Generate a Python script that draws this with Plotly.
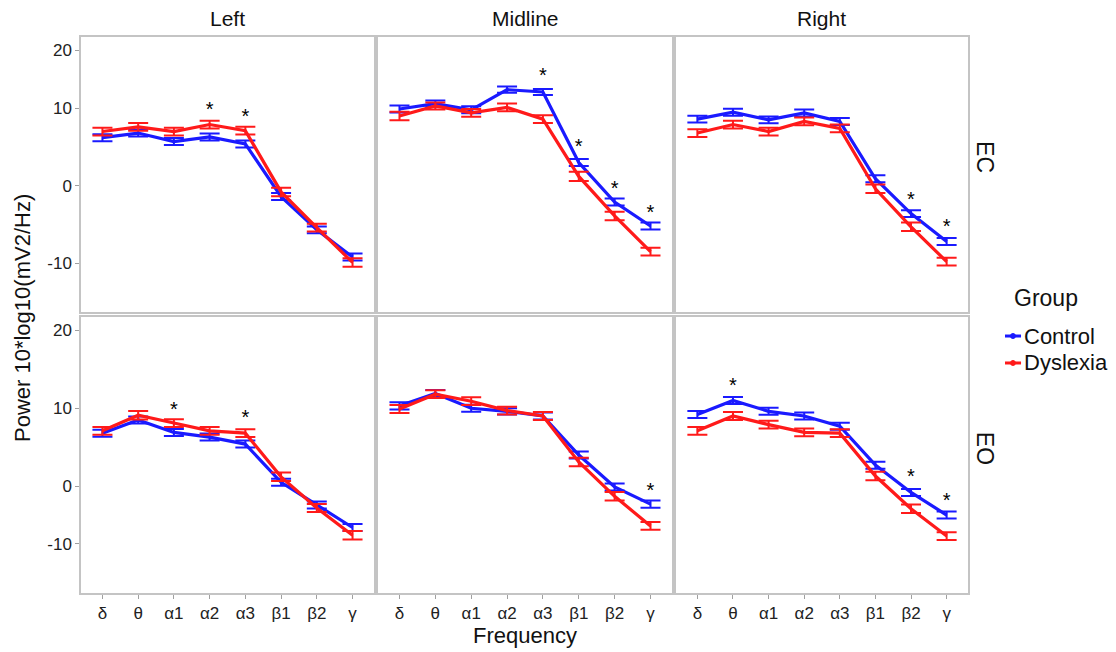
import plotly.graph_objects as go

# ---------------- data ----------------
bands = ["δ", "θ", "α1", "α2", "α3", "β1", "β2", "γ"]
regions = ["Left", "Midline", "Right"]
conditions = ["EC", "EO"]
groups = ["Control", "Dyslexia"]

# Eyes closed (EC): mean power, 10*log10(mV2/Hz)
ec_left_control = [6.2, 6.8, 5.7, 6.3, 5.4, -1.4, -5.7, -9.2]
ec_left_dyslexia = [7.0, 7.6, 7.0, 7.9, 7.1, -0.8, -5.4, -9.9]
ec_mid_control = [9.9, 10.6, 9.8, 12.4, 12.1, 3.0, -2.1, -5.2]
ec_mid_dyslexia = [9.0, 10.3, 9.4, 10.1, 8.6, 1.2, -3.9, -8.5]
ec_right_control = [8.6, 9.5, 8.5, 9.4, 8.3, 0.9, -3.6, -7.2]
ec_right_dyslexia = [6.8, 7.9, 7.0, 8.3, 7.4, -0.4, -5.3, -9.8]

# Eyes open (EO)
eo_left_control = [6.8, 8.5, 6.9, 6.3, 5.4, 0.5, -2.4, -5.3]
eo_left_dyslexia = [7.1, 9.1, 8.1, 7.1, 6.8, 1.2, -2.8, -6.3]
eo_mid_control = [10.3, 11.9, 10.0, 9.6, 9.0, 4.0, -0.1, -2.3]
eo_mid_dyslexia = [9.9, 11.8, 10.9, 9.7, 9.0, 3.1, -1.3, -5.1]
eo_right_control = [9.2, 11.0, 9.6, 9.0, 7.7, 2.7, -0.8, -3.7]
eo_right_dyslexia = [7.1, 9.0, 7.9, 6.9, 6.8, 1.3, -2.9, -6.4]

# standard errors
ec_left_control_se = [0.45, 0.45, 0.45, 0.45, 0.45, 0.45, 0.45, 0.45]
ec_left_dyslexia_se = [0.5, 0.5, 0.5, 0.5, 0.5, 0.55, 0.5, 0.55]
ec_mid_control_se = [0.45, 0.4, 0.45, 0.4, 0.4, 0.45, 0.45, 0.45]
ec_mid_dyslexia_se = [0.55, 0.45, 0.5, 0.5, 0.5, 0.6, 0.55, 0.5]
ec_right_control_se = [0.45, 0.45, 0.45, 0.45, 0.45, 0.45, 0.45, 0.45]
ec_right_dyslexia_se = [0.5, 0.5, 0.5, 0.5, 0.5, 0.55, 0.55, 0.5]
eo_left_control_se = [0.45, 0.45, 0.45, 0.45, 0.45, 0.45, 0.45, 0.45]
eo_left_dyslexia_se = [0.5, 0.55, 0.5, 0.5, 0.5, 0.55, 0.5, 0.55]
eo_mid_control_se = [0.45, 0.45, 0.45, 0.4, 0.45, 0.45, 0.45, 0.45]
eo_mid_dyslexia_se = [0.5, 0.5, 0.5, 0.5, 0.5, 0.55, 0.55, 0.5]
eo_right_control_se = [0.45, 0.45, 0.45, 0.45, 0.45, 0.45, 0.45, 0.45]
eo_right_dyslexia_se = [0.5, 0.5, 0.5, 0.5, 0.5, 0.55, 0.55, 0.5]

# significance markers (band, height)
ec_left_stars_x = ["α2", "α3"]
ec_left_stars_y = [9.7, 8.7]
ec_mid_stars_x = ["α3", "β1", "β2", "γ"]
ec_mid_stars_y = [14.1, 4.9, -0.5, -3.6]
ec_right_stars_x = ["β2", "γ"]
ec_right_stars_y = [-2.0, -5.5]
eo_left_stars_x = ["α1", "α3"]
eo_left_stars_y = [9.6, 8.6]
eo_mid_stars_x = ["γ"]
eo_mid_stars_y = [-0.8]
eo_right_stars_x = ["θ", "β2", "γ"]
eo_right_stars_y = [12.7, 1.0, -2.0]

y_tick_labels = ["-10", "0", "10", "20"]
ec_tick_vals = [-10, 0, 10, 17.5]
eo_tick_vals = [-7.4, 0, 10, 20]
ec_range = [-16.3, 19.2]
eo_range = [-13.7, 21.7]

# ---------------- figure ----------------
colors = {"Control": "#1a1aff", "Dyslexia": "#ff1a1a"}
FONT = "Liberation Sans, Arial, sans-serif"

panels = [
    ("EC", "Left", ec_left_control, ec_left_control_se, ec_left_dyslexia, ec_left_dyslexia_se, ec_left_stars_x, ec_left_stars_y),
    ("EC", "Midline", ec_mid_control, ec_mid_control_se, ec_mid_dyslexia, ec_mid_dyslexia_se, ec_mid_stars_x, ec_mid_stars_y),
    ("EC", "Right", ec_right_control, ec_right_control_se, ec_right_dyslexia, ec_right_dyslexia_se, ec_right_stars_x, ec_right_stars_y),
    ("EO", "Left", eo_left_control, eo_left_control_se, eo_left_dyslexia, eo_left_dyslexia_se, eo_left_stars_x, eo_left_stars_y),
    ("EO", "Midline", eo_mid_control, eo_mid_control_se, eo_mid_dyslexia, eo_mid_dyslexia_se, eo_mid_stars_x, eo_mid_stars_y),
    ("EO", "Right", eo_right_control, eo_right_control_se, eo_right_dyslexia, eo_right_dyslexia_se, eo_right_stars_x, eo_right_stars_y),
]

fig = go.Figure()
for i, (cond, reg, c_vals, c_se, d_vals, d_se, sx, sy) in enumerate(panels):
    ax = "" if i == 0 else str(i + 1)
    for g, vals, se in (("Control", c_vals, c_se), ("Dyslexia", d_vals, d_se)):
        fig.add_trace(go.Scatter(
            x=bands, y=vals, mode="lines", name=g, legendgroup=g,
            showlegend=False,
            line=dict(color=colors[g], width=3.2),
            error_y=dict(type="data", array=se, visible=True,
                         color=colors[g], thickness=2, width=10),
            xaxis="x" + ax, yaxis="y" + ax,
        ))
    fig.add_trace(go.Scatter(
        x=sx, y=sy, mode="text", text=["*"] * len(sx),
        textfont=dict(size=20, color="black", family=FONT),
        showlegend=False, hoverinfo="skip",
        xaxis="x" + ax, yaxis="y" + ax,
    ))

x_domains = [[0, 0.3303], [0.3348, 0.6663], [0.6708, 1.0]]
y_domains = {"EC": [0.5054, 1.0], "EO": [0.0, 0.4964]}

# page body adds an 8px offset; figure sized to fit the 1116x652 window
layout = dict(
    width=1108, height=644,
    margin=dict(l=73, r=148, t=29, b=59),
    plot_bgcolor="white", paper_bgcolor="white",
    font=dict(family=FONT, color="#1a1a1a"),
    showlegend=False,
)

axis_common = dict(showline=True, mirror=True, linecolor="#c4c4c4", linewidth=1.5,
                   showgrid=False, zeroline=False)
for i, (cond, reg, *_rest) in enumerate(panels):
    col = i % 3
    ax = "" if i == 0 else str(i + 1)
    xa = dict(axis_common, domain=x_domains[col], anchor="y" + ax,
              type="category", categoryorder="array", categoryarray=bands,
              range=[-0.6, 7.6])
    if cond == "EO":
        xa.update(ticks="outside", ticklen=4, tickcolor="#a0a0a0",
                  showticklabels=True, tickfont=dict(size=17, color="#222"))
    else:
        xa.update(ticks="", showticklabels=False)
    ya = dict(axis_common, domain=y_domains[cond], anchor="x" + ax,
              range=ec_range if cond == "EC" else eo_range)
    if col == 0:
        ya.update(ticks="outside", ticklen=4, tickcolor="#a0a0a0",
                  tickvals=ec_tick_vals if cond == "EC" else eo_tick_vals,
                  ticktext=y_tick_labels, showticklabels=True,
                  tickfont=dict(size=17, color="#222"))
    else:
        ya.update(ticks="", showticklabels=False)
    layout["xaxis" + ax] = xa
    layout["yaxis" + ax] = ya

annotations = []
strip_x = [0.1652, 0.5006, 0.8354]
for r, sxp in zip(regions, strip_x):
    annotations.append(dict(text=r, x=sxp, y=1.034, xref="paper", yref="paper",
                            xanchor="center", yanchor="middle", showarrow=False,
                            font=dict(size=21, color="#111")))
for c, yp in zip(conditions, [0.784, 0.261]):
    annotations.append(dict(text=c, x=1.0192, y=yp, xref="paper", yref="paper",
                            xanchor="center", yanchor="middle", showarrow=False,
                            textangle=90, font=dict(size=23, color="#111")))
annotations.append(dict(text="Frequency", x=0.5006, y=-0.0773, xref="paper", yref="paper",
                        xanchor="center", yanchor="middle", showarrow=False,
                        font=dict(size=22, color="#111")))
annotations.append(dict(text="Power 10*log10(mV2/Hz)", x=-0.0665, y=0.4946,
                        xref="paper", yref="paper", xanchor="center", yanchor="middle",
                        showarrow=False, textangle=-90, font=dict(size=22, color="#111")))

# legend (drawn manually to match the compact ggplot key)
annotations.append(dict(text="Group", x=1.0496, y=0.5306, xref="paper", yref="paper",
                        xanchor="left", yanchor="middle", showarrow=False,
                        font=dict(size=23, color="#111")))
shapes = []
legend_y = [0.4622, 0.4137]
for g, ly in zip(groups, legend_y):
    annotations.append(dict(text=g, x=1.0605, y=ly, xref="paper", yref="paper",
                            xanchor="left", yanchor="middle", showarrow=False,
                            font=dict(size=22, color="#111")))
    shapes.append(dict(type="line", xref="paper", yref="paper",
                       x0=1.0417, x1=1.0598, y0=ly, y1=ly,
                       line=dict(color=colors[g], width=3)))
    shapes.append(dict(type="circle", xref="paper", yref="paper",
                       x0=1.0507 - 0.0028, x1=1.0507 + 0.0028,
                       y0=ly - 0.0045, y1=ly + 0.0045,
                       fillcolor=colors[g], line=dict(color=colors[g], width=1)))
layout["annotations"] = annotations
layout["shapes"] = shapes

fig.update_layout(**layout)
fig.write_html("out.html")
